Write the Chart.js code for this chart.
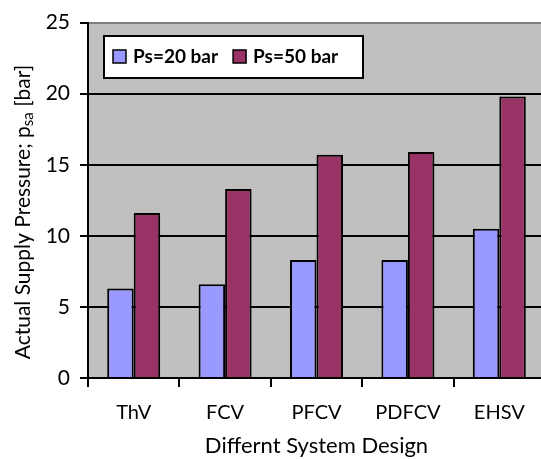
<!DOCTYPE html>
<html>
<head>
<meta charset="utf-8">
<script src="https://cdn.jsdelivr.net/npm/chart.js@4/dist/chart.umd.min.js"></script>
<style>
  html, body { margin: 0; padding: 0; background: #fff; overflow: hidden; }
  #wrap { width: 545px; height: 459px; }
</style>
</head>
<body>
<div id="wrap"><canvas id="myChart" width="545" height="459"></canvas></div>
<script>
const categories = ['ThV', 'FCV', 'PFCV', 'PDFCV', 'EHSV'];
const ps20 = [6.3, 6.6, 8.3, 8.3, 10.5];
const ps50 = [11.6, 13.3, 15.7, 15.9, 19.8];
const yTicks = [0, 5, 10, 15, 20, 25];

const FONT = 'Lato, Carlito, sans-serif';

// draws the y title with a subscript and the boxed legend inside the plot
const extras = {
    id: 'extras',
    afterDraw(chart) {
        const c = chart.ctx;
        c.save();
        // y axis title
        c.translate(23, 212);
        c.rotate(-Math.PI / 2);
        c.fillStyle = '#000';
        c.textBaseline = 'middle';
        const big = '21px ' + FONT, small = '15px ' + FONT;
        const parts = [['Actual Supply Pressure; p', big, 0], ['sa', small, 5], [' [bar]', big, 0]];
        let total = 0;
        parts.forEach(p => { c.font = p[1]; total += c.measureText(p[0]).width; });
        let x = -total / 2;
        parts.forEach(p => {
            c.font = p[1];
            c.fillText(p[0], x, p[2]);
            x += c.measureText(p[0]).width;
        });
        c.restore();

        // legend
        c.save();
        const lx = 104, ly = 36, lw = 259, lh = 42;
        c.fillStyle = '#fff';
        c.fillRect(lx, ly, lw, lh);
        c.strokeStyle = '#000';
        c.lineWidth = 2;
        c.strokeRect(lx, ly, lw, lh);
        c.font = 'bold 19px ' + FONT;
        c.textBaseline = 'middle';
        let px = lx + 9;
        chart.data.datasets.forEach(ds => {
            c.fillStyle = ds.backgroundColor;
            c.fillRect(px, ly + 14, 13, 13);
            c.lineWidth = 1.5;
            c.strokeRect(px, ly + 14, 13, 13);
            c.fillStyle = '#000';
            c.fillText(ds.label, px + 20, ly + 21);
            px += 20 + c.measureText(ds.label).width + 15;
        });
        c.restore();
    }
};

const ctx = document.getElementById('myChart').getContext('2d');
const myChart = new Chart(ctx, {
    type: 'bar',
    data: {
        labels: categories,
        datasets: [{
            label: 'Ps=20 bar',
            data: ps20,
            backgroundColor: '#9999ff',
            borderColor: '#000',
            borderWidth: 2,
            borderSkipped: 'bottom'
        }, {
            label: 'Ps=50 bar',
            data: ps50,
            backgroundColor: '#993366',
            borderColor: '#000',
            borderWidth: 2,
            borderSkipped: 'bottom'
        }]
    },
    options: {
        responsive: false,
        animation: false,
        layout: { padding: { left: 0, top: 20, right: 0, bottom: 0 } },
        categoryPercentage: 0.58,
        barPercentage: 1,
        scales: {
            x: {
                grid: {
                    offset: true,
                    drawOnChartArea: false,
                    drawTicks: true,
                    tickLength: 9,
                    color: '#000',
                    lineWidth: 2
                },
                border: { color: '#000', width: 2 },
                ticks: {
                    color: '#000',
                    font: { family: FONT, size: 20 },
                    padding: 14
                },
                title: {
                    display: true,
                    text: 'Differnt System Design',
                    color: '#000',
                    font: { family: FONT, size: 22 },
                    padding: { top: 1, bottom: 0 }
                },
                afterFit(scale) { scale.height = 81; }
            },
            y: {
                min: 0,
                max: 25,
                afterBuildTicks(scale) { scale.ticks = yTicks.map(v => ({ value: v })); },
                grid: {
                    color: ctx => ctx.tick && ctx.tick.value === 25 ? '#808080' : '#000',
                    lineWidth: 2,
                    tickLength: 8,
                    tickColor: '#000'
                },
                border: { color: '#000', width: 2 },
                ticks: {
                    color: '#000',
                    font: { family: FONT, size: 21 },
                    padding: 10
                },
                afterFit(scale) { scale.width = 88; }
            }
        },
        plugins: {
            legend: false,
            tooltip: { enabled: false }
        }
    },
    plugins: [{
        id: 'bg',
        beforeDraw(chart) {
            const a = chart.chartArea;
            chart.ctx.save();
            chart.ctx.fillStyle = '#c0c0c0';
            chart.ctx.fillRect(a.left, a.top, a.right - a.left, a.bottom - a.top);
            chart.ctx.restore();
        }
    }, extras]
});
</script>
</body>
</html>
